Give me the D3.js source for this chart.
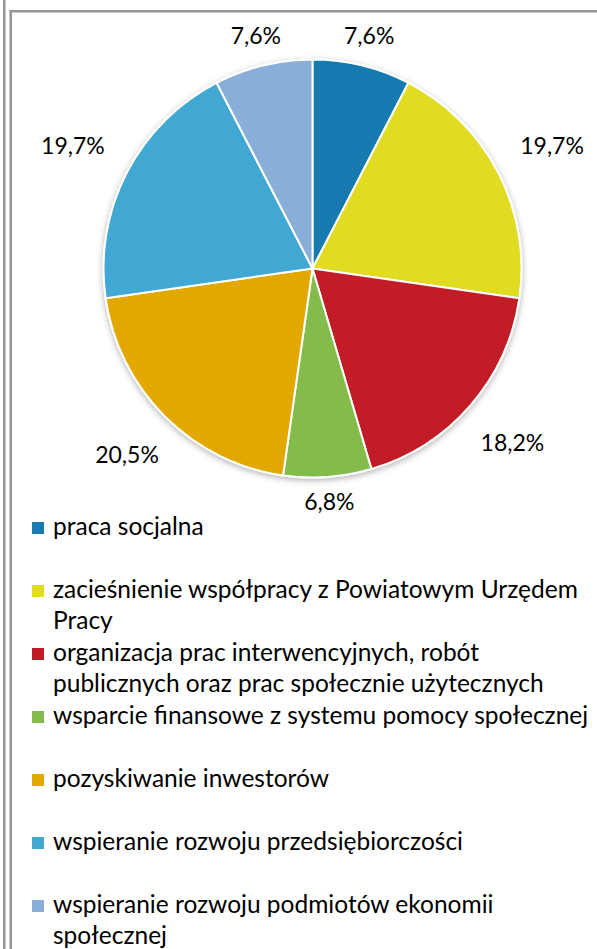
<!DOCTYPE html>
<html>
<head>
<meta charset="utf-8">
<script src="https://cdn.jsdelivr.net/npm/d3@7"></script>
<style>
  body { margin: 0; background: #fff; }
  svg { display: block; font-family: Lato, "Open Sans", sans-serif; }
</style>
</head>
<body>
<div class="chart"></div>
<script>
var categories = [
	"praca socjalna",
	"zacieśnienie współpracy z Powiatowym Urzędem\nPracy",
	"organizacja prac interwencyjnych, robót\npublicznych oraz prac społecznie użytecznych",
	"wsparcie finansowe z systemu pomocy społecznej",
	"pozyskiwanie inwestorów",
	"wspieranie rozwoju przedsiębiorczości",
	"wspieranie rozwoju podmiotów ekonomii\nspołecznej"
];
var values = [7.6, 19.7, 18.2, 6.8, 20.5, 19.7, 7.6];
var colors = ["#177ab1", "#e1db22", "#c21b26", "#84bc4b", "#e3a800", "#41a8d2", "#89aed8"];

var w = 597, h = 949;
var cx = 312.5, cy = 268.5, r = 209;
var labelSize = 23, legendSize = 24.5;

var svg = d3.select('.chart').append('svg')
	.attr('width', w)
	.attr('height', h);

/*---------------------------FRAME--------------------------*/

svg.append('rect').attr('x', 3).attr('y', 0).attr('width', 2.5).attr('height', h).attr('fill', '#969696');
svg.append('rect').attr('x', 9.5).attr('y', 10).attr('width', 2.5).attr('height', h - 10).attr('fill', '#969696');
svg.append('rect').attr('x', 9.5).attr('y', 10).attr('width', w - 9.5).attr('height', 2.5).attr('fill', '#969696');

/*---------------------------PIE--------------------------*/

var defs = svg.append('defs');
var shadow = defs.append('filter').attr('id', 'shadow')
	.attr('x', '-20%').attr('y', '-20%').attr('width', '140%').attr('height', '140%');
shadow.append('feDropShadow')
	.attr('dx', 0).attr('dy', 2).attr('stdDeviation', 3)
	.attr('flood-color', '#000').attr('flood-opacity', 0.3);

var pie = d3.pie().sort(null).value(function(d) { return d; });
var arcs = pie(values);
var arc = d3.arc().innerRadius(0).outerRadius(r);

var g = svg.append('g').attr('transform', 'translate(' + cx + ',' + cy + ')');

g.append('g').attr('filter', 'url(#shadow)')
	.selectAll('path').data(arcs).enter()
	.append('path')
	.attr('d', arc)
	.attr('fill', function(d, i) { return colors[i]; })
	.attr('stroke', '#fff')
	.attr('stroke-width', 2)
	.attr('stroke-linejoin', 'round');

var fmt = function(v) { return v.toFixed(1).replace('.', ',') + '%'; };

var labels = g.selectAll('.lbl').data(arcs).enter()
	.append('text')
	.attr('class', 'lbl')
	.attr('text-anchor', 'middle')
	.attr('dominant-baseline', 'central')
	.attr('font-size', labelSize)
	.attr('fill', '#000')
	.text(function(d) { return fmt(d.data); });

// push labels out of the pie, further on the sides (like excel's best fit)
labels.each(function(d) {
	var a = (d.startAngle + d.endAngle) / 2;
	var hw = this.getComputedTextLength() / 2;
	var hh = 9;
	var s = Math.abs(Math.sin(a)), c = Math.abs(Math.cos(a));
	var dist = r + 12 + 18 * s + hw * s + hh * c;
	d3.select(this)
		.attr('x', Math.sin(a) * dist)
		.attr('y', -Math.cos(a) * dist);
});

/*---------------------------LEGEND--------------------------*/

var legTop = 535, slot = 63, lineH = 31;

var items = svg.selectAll('.leg').data(categories).enter()
	.append('g')
	.attr('class', 'leg')
	.attr('transform', function(d, i) { return 'translate(0,' + (legTop + i * slot) + ')'; });

items.append('rect')
	.attr('x', 32).attr('y', -13)
	.attr('width', 12).attr('height', 12)
	.attr('fill', function(d, i) { return colors[i]; });

items.append('text')
	.attr('x', 53)
	.attr('font-size', legendSize)
	.attr('fill', '#000')
	.selectAll('tspan')
	.data(function(d) { return d.split('\n'); })
	.enter().append('tspan')
	.attr('x', 53)
	.attr('y', function(d, i) { return i * lineH; })
	.text(function(d) { return d; });
</script>
</body>
</html>
